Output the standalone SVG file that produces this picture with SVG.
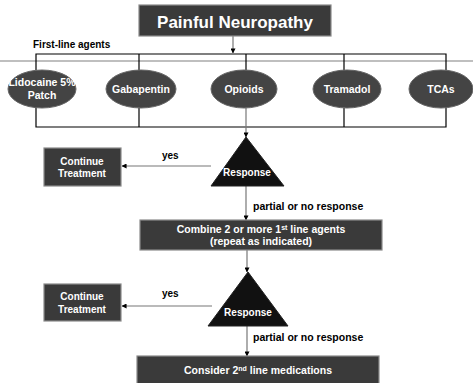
<svg xmlns="http://www.w3.org/2000/svg" width="473" height="383" viewBox="0 0 473 383">
<defs>
<marker id="ah" viewBox="0 0 6 6" refX="5.5" refY="3" markerWidth="5" markerHeight="5" orient="auto" markerUnits="userSpaceOnUse">
<path d="M0,0 L6,3 L0,6 Z" fill="#000"/>
</marker>
<style>
.t{font-family:"Liberation Sans",Arial,sans-serif;font-weight:bold;}
.w{fill:#fff;text-anchor:middle;}
.k{fill:#000;}
.box{fill:#3a3a3a;stroke:#8a8a8a;stroke-width:1.2;}
.ell{fill:#444;stroke:#666;stroke-width:1;}
.tri{fill:#111;stroke:#222;stroke-width:1;}
.bus{stroke:#000;stroke-width:1.2;fill:none;}
.arr{stroke:#777;stroke-width:1.2;fill:none;marker-end:url(#ah);}
</style>
</defs>
<rect width="473" height="383" fill="#fff"/>
<line x1="0" y1="61" x2="473" y2="61" stroke="#aaa" stroke-width="1.5"/>

<g id="connectors">
<line class="arr" x1="233" y1="36" x2="233" y2="53"/>
<polyline class="bus" points="36,70 36,54 446,54 446,70"/>
<line class="bus" x1="139" y1="54" x2="139" y2="71"/>
<line class="bus" x1="246" y1="54" x2="246" y2="70"/>
<line class="bus" x1="344" y1="54" x2="344" y2="71"/>
<polyline class="bus" points="36,107 36,127 446,127 446,107"/>
<line class="bus" x1="139" y1="108" x2="139" y2="127"/>
<line class="bus" x1="344" y1="108" x2="344" y2="127"/>
<line class="arr" x1="246" y1="108" x2="246" y2="137"/>
<line class="arr" x1="211" y1="166" x2="122" y2="166"/>
<line class="arr" x1="246" y1="186" x2="246" y2="220"/>
<line class="arr" x1="247" y1="250" x2="247" y2="272"/>
<line class="arr" x1="212" y1="306" x2="122" y2="306"/>
<line class="arr" x1="247" y1="326" x2="247" y2="356"/>
<text class="t k" x="33" y="48" font-size="10">First-line agents</text>
<text class="t k" x="162" y="159" font-size="10">yes</text>
<text class="t k" x="253" y="210" font-size="10.5">partial or no response</text>
<text class="t k" x="162" y="297" font-size="10">yes</text>
<text class="t k" x="253" y="341" font-size="10.5">partial or no response</text>
</g>

<g id="painful">
<rect class="box" x="139" y="5" width="192" height="31"/>
<text class="t w" x="235" y="28" font-size="17">Painful Neuropathy</text>
</g>

<g id="lidocaine">
<ellipse class="ell" cx="42" cy="89" rx="34" ry="19"/>
<text class="t w" x="42" y="86" font-size="10.5">Lidocaine 5%</text>
<text class="t w" x="42" y="99" font-size="10.5">Patch</text>
</g>
<g id="gabapentin">
<ellipse class="ell" cx="141" cy="89" rx="35" ry="19"/>
<text class="t w" x="141" y="93" font-size="10.5">Gabapentin</text>
</g>
<g id="opioids">
<ellipse class="ell" cx="244" cy="89" rx="33" ry="19"/>
<text class="t w" x="244" y="93" font-size="10.5">Opioids</text>
</g>
<g id="tramadol">
<ellipse class="ell" cx="347" cy="89" rx="34" ry="19"/>
<text class="t w" x="347" y="93" font-size="10.5">Tramadol</text>
</g>
<g id="tcas">
<ellipse class="ell" cx="441" cy="89" rx="32" ry="19"/>
<text class="t w" x="441" y="93" font-size="10.5">TCAs</text>
</g>

<g id="response1">
<polygon class="tri" points="246,137 284,186 211,186"/>
<text class="t w" x="247" y="176" font-size="10">Response</text>
</g>
<g id="continue1">
<rect class="box" x="44" y="148" width="77" height="38"/>
<text class="t w" x="82" y="165" font-size="10">Continue</text>
<text class="t w" x="82" y="177" font-size="10">Treatment</text>
</g>
<g id="combine">
<rect class="box" x="140" y="220" width="242" height="30"/>
<text class="t w" x="261" y="233" font-size="10.5">Combine 2 or more 1<tspan font-size="7" dy="-3.5">st</tspan><tspan dy="3.5"> line agents</tspan></text>
<text class="t w" x="261" y="245" font-size="10.5">(repeat as indicated)</text>
</g>
<g id="response2">
<polygon class="tri" points="248,272 288,326 208,326"/>
<text class="t w" x="248" y="316" font-size="10">Response</text>
</g>
<g id="continue2">
<rect class="box" x="44" y="284" width="77" height="37"/>
<text class="t w" x="82" y="300" font-size="10">Continue</text>
<text class="t w" x="82" y="313" font-size="10">Treatment</text>
</g>
<g id="consider">
<rect class="box" x="137" y="356" width="242" height="32"/>
<text class="t w" x="258" y="374" font-size="10.5">Consider 2<tspan font-size="7" dy="-3.5">nd</tspan><tspan dy="3.5"> line medications</tspan></text>
</g>
</svg>
